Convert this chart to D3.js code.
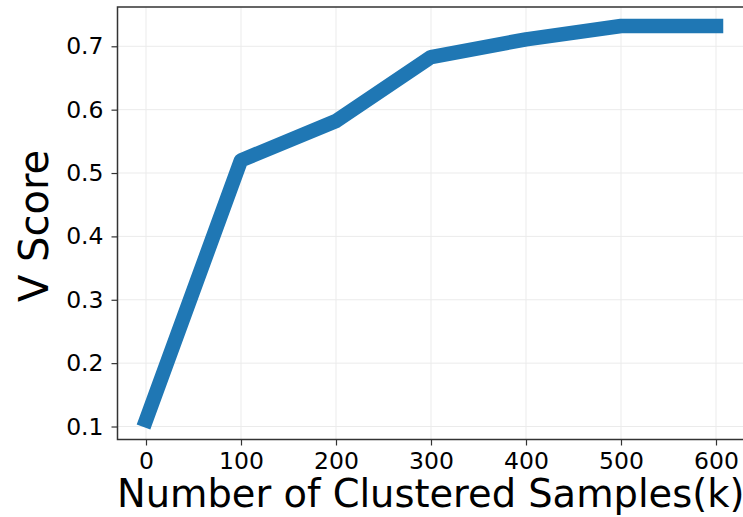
<!DOCTYPE html>
<html><head><meta charset="utf-8">
<script src="https://cdn.jsdelivr.net/npm/d3@7"></script>
<style>body{margin:0;background:#fff}svg{display:block}text{font-family:"DejaVu Sans",sans-serif;fill:#000}</style>
</head><body>
<svg id="c" width="743" height="517"></svg>
<script>
const samples = [0, 100, 200, 300, 400, 500, 600];
const vScore = [0.11, 0.52, 0.582, 0.683, 0.711, 0.732, 0.732];
const xTicks = [0, 100, 200, 300, 400, 500, 600];
const yTicks = [0.1, 0.2, 0.3, 0.4, 0.5, 0.6, 0.7];
const xTitle = "Number of Clustered Samples(k)";
const yTitle = "V Score";

const svg = d3.select("#c");
const L = 117.5, R = 744.5, T = 7, B = 439.5;
const x = d3.scaleLinear().domain([-30, 630]).range([L, R]);
const y = d3.scaleLinear().domain([0.0795, 0.762]).range([B, T]);

// grid
svg.append("g").selectAll("line").data(xTicks).join("line")
  .attr("x1", d => x(d)).attr("x2", d => x(d)).attr("y1", T).attr("y2", B)
  .attr("stroke", "#ebebeb").attr("stroke-width", 1);
svg.append("g").selectAll("line").data(yTicks).join("line")
  .attr("x1", L).attr("x2", R).attr("y1", d => y(d)).attr("y2", d => y(d))
  .attr("stroke", "#ebebeb").attr("stroke-width", 1);

// line
svg.append("path").datum(samples.map((s, i) => [s, vScore[i]]))
  .attr("d", d3.line().x(d => x(d[0])).y(d => y(d[1])))
  .attr("fill", "none").attr("stroke", "#1f77b4").attr("stroke-width", 14.5)
  .attr("stroke-linecap", "square").attr("stroke-linejoin", "round");

// axes
const xa = svg.append("g").attr("transform", `translate(0,${B})`)
  .call(d3.axisBottom(x).tickValues(xTicks).tickSize(6).tickPadding(7).tickFormat(d3.format("d")));
const ya = svg.append("g").attr("transform", `translate(${L},0)`)
  .call(d3.axisLeft(y).tickValues(yTicks).tickSize(6).tickPadding(8).tickFormat(d3.format(".1f")));
[xa, ya].forEach(a => {
  a.select(".domain").remove();
  a.selectAll("line").attr("stroke", "#333").attr("stroke-width", 1.2);
  a.selectAll("text").attr("font-family", "DejaVu Sans").attr("font-size", 23.5).attr("fill", "#000");
});
// spines
svg.append("rect").attr("x", L).attr("y", T).attr("width", R - L).attr("height", B - T)
  .attr("fill", "none").attr("stroke", "#333").attr("stroke-width", 1.5);

svg.append("text").attr("x", L - 0.5).attr("y", 507).attr("font-size", 38.4).text(xTitle);
svg.append("text").attr("transform", `translate(48,226) rotate(-90)`).attr("text-anchor", "middle")
  .attr("font-size", 40).text(yTitle);
</script>
</body></html>
